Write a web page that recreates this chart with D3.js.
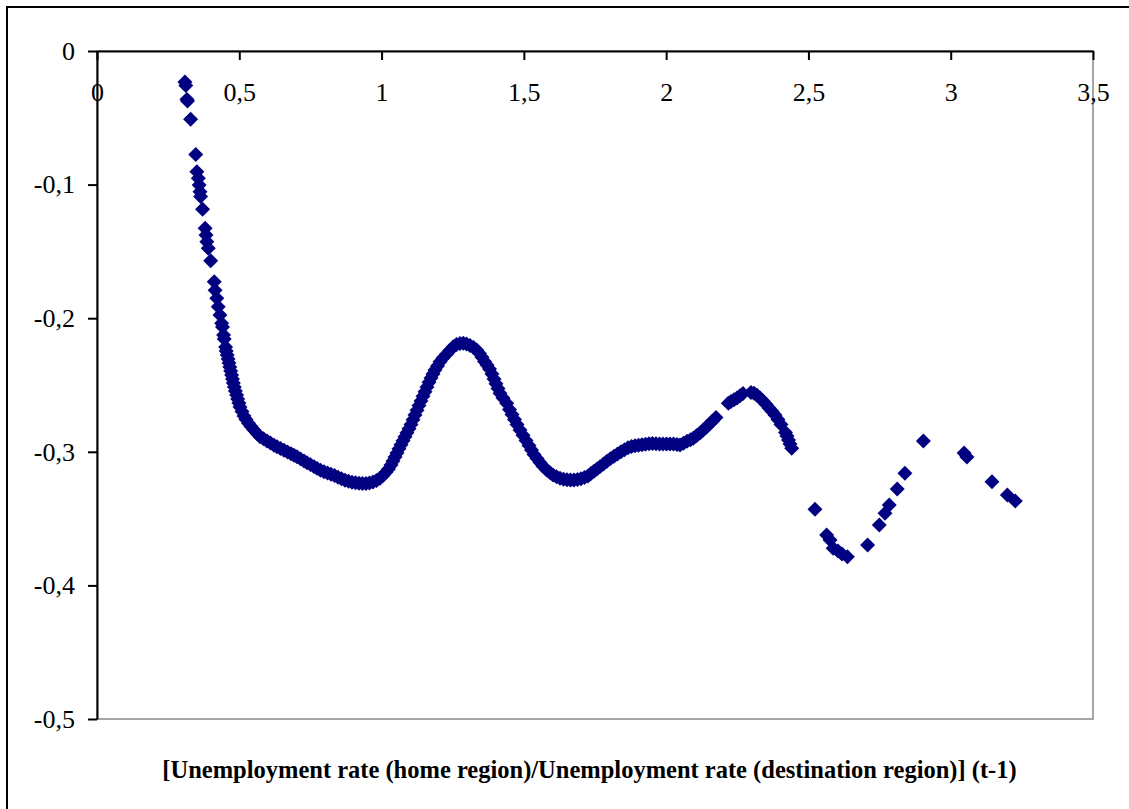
<!DOCTYPE html>
<html>
<head>
<meta charset="utf-8">
<script src="https://cdn.jsdelivr.net/npm/d3@7"></script>
<style>
  body { margin: 0; background: #fff; }
  .tick text { font-family: "Liberation Serif", "Times New Roman", serif; }
</style>
</head>
<body>
<div class="module"></div>
<script>

// tick values
const xTicks = [0, 0.5, 1, 1.5, 2, 2.5, 3, 3.5];
const yTicks = [0, -0.1, -0.2, -0.3, -0.4, -0.5];
const xTitle = "[Unemployment rate (home region)/Unemployment rate (destination region)] (t-1)";

// points, [x, y]
const topPoints = [
  [0.309,-0.0232],[0.312,-0.0258],[0.316,-0.0362],[0.318,-0.0375],[0.329,-0.0511],
  [0.347,-0.0775],[0.351,-0.0903],[0.356,-0.0953],[0.359,-0.1003],[0.362,-0.1053],
  [0.364,-0.109],[0.371,-0.1185],[0.380,-0.1327],[0.383,-0.1377],[0.386,-0.1427],
  [0.391,-0.1477],[0.3995,-0.157],[0.412,-0.1727],[0.415,-0.179],[0.421,-0.185],
  [0.426,-0.1914],[0.432,-0.1976],[0.438,-0.2038]
];

const steepDrop = [
  [0.441,-0.2066],[0.4449,-0.2126],[0.447,-0.2156],[0.4519,-0.2216],[0.454,-0.2246],
  [0.4575,-0.2275],[0.4607,-0.2305],[0.4638,-0.2335],[0.4667,-0.2365],[0.4698,-0.2395],
  [0.473,-0.2425],[0.4761,-0.2455],[0.479,-0.2485],[0.4825,-0.2515],[0.4863,-0.2545],
  [0.4906,-0.2575],[0.4944,-0.2605],[0.4986,-0.2635],[0.5025,-0.2665],[0.5095,-0.2698],
  [0.5166,-0.2732],[0.5236,-0.2758],[0.5324,-0.2787],[0.5412,-0.2811],[0.5517,-0.2837],
  [0.5622,-0.2863],[0.5728,-0.2887]
];

const firstValley = [
  [0.5851,-0.2903],[0.5974,-0.2919],[0.6097,-0.2934],[0.622,-0.2951],[0.6325,-0.2962],
  [0.6448,-0.2975],[0.6571,-0.2988],[0.6694,-0.3001],[0.6817,-0.3015],[0.6923,-0.3026],
  [0.7028,-0.3037],[0.7151,-0.3053],[0.7274,-0.3069],[0.7379,-0.3082],[0.7502,-0.3096],
  [0.7625,-0.3111],[0.7731,-0.3124],[0.7854,-0.3138],[0.7977,-0.3149],[0.81,-0.3159],
  [0.8223,-0.3168],[0.8346,-0.3177],[0.8469,-0.319],[0.8592,-0.3201],[0.8715,-0.3213],
  [0.8838,-0.3221],[0.8961,-0.3228],[0.9084,-0.3232],[0.9207,-0.3235],[0.933,-0.3237],
  [0.9453,-0.3237],[0.9576,-0.3234],[0.9699,-0.3226],[0.9822,-0.3215],[0.9945,-0.3198],
  [1.005,-0.3177],[1.0155,-0.3153],[1.0243,-0.3129]
];

const mainPeak = [
  [1.0331,-0.3099],[1.0401,-0.3069],[1.0472,-0.3039],[1.0542,-0.3009],[1.0612,-0.2978],
  [1.0683,-0.2947],[1.0753,-0.2917],[1.0823,-0.2887],[1.0893,-0.2857],[1.0964,-0.2827],
  [1.1034,-0.2796],[1.1104,-0.276],[1.1175,-0.2725],[1.1245,-0.2689],[1.1315,-0.2654],
  [1.1385,-0.262],[1.1456,-0.2585],[1.1526,-0.255],[1.1596,-0.2515],[1.1666,-0.248],
  [1.1737,-0.2448],[1.1807,-0.2418],[1.1877,-0.2388],[1.1965,-0.2358],[1.2053,-0.2326],
  [1.2158,-0.2298],[1.2281,-0.2269],[1.2404,-0.224],[1.252,-0.2213],[1.2633,-0.2197],
  [1.2756,-0.2189],[1.2872,-0.2188],[1.2984,-0.2193],[1.3107,-0.2204],[1.323,-0.2219],
  [1.3343,-0.2238],[1.3441,-0.2264],[1.3529,-0.2293],[1.3617,-0.2324],[1.3705,-0.235],
  [1.3793,-0.238],[1.388,-0.2418],[1.3951,-0.2455],[1.4021,-0.2491],[1.4091,-0.2526],
  [1.4161,-0.2562],[1.4267,-0.2597],[1.4397,-0.2637],[1.4495,-0.2683],[1.4583,-0.2721],
  [1.4671,-0.2758],[1.4759,-0.2796],[1.4864,-0.2837],[1.497,-0.2876],[1.5075,-0.2915],
  [1.518,-0.2953],[1.5268,-0.2987],[1.5356,-0.302],[1.5462,-0.305],[1.5567,-0.308]
];

const secondValley = [
  [1.5672,-0.3108],[1.5802,-0.3136],[1.5918,-0.3156],[1.6024,-0.3174],[1.6147,-0.3187],
  [1.627,-0.3198],[1.6393,-0.3205],[1.6516,-0.321],[1.6639,-0.3211],[1.6762,-0.3211],
  [1.6885,-0.3208],[1.7008,-0.3202],[1.7131,-0.3193],[1.7254,-0.3181],[1.7359,-0.3162],
  [1.7465,-0.3145],[1.757,-0.3129],[1.7675,-0.3111],[1.7798,-0.3091],[1.7921,-0.307],
  [1.8044,-0.3051],[1.8167,-0.3034],[1.829,-0.3016],[1.8413,-0.3],[1.8536,-0.2984],
  [1.8659,-0.297],[1.8782,-0.2961],[1.8905,-0.2954],[1.9028,-0.2951],[1.9151,-0.2947],
  [1.9274,-0.2943],[1.9397,-0.294],[1.952,-0.2938],[1.9643,-0.2939],[1.9767,-0.2941],
  [1.989,-0.2942],[2.0013,-0.2942],[2.0136,-0.2942],[2.0259,-0.2942],[2.0382,-0.2945],
  [2.0487,-0.2949]
];

const smallPeak = [
  [2.0609,-0.2936],[2.0733,-0.2921],[2.0855,-0.2909],[2.0954,-0.2899],[2.1066,-0.288],
  [2.1189,-0.2859],[2.1305,-0.2837],[2.1418,-0.2814],[2.1523,-0.2792],[2.1629,-0.2769],
  [2.1752,-0.2743],
  [2.2184,-0.2637],[2.2279,-0.2624],[2.2384,-0.2611],[2.249,-0.2597],[2.2595,-0.2581],
  [2.27,-0.2564],
  [2.2982,-0.2556],[2.3087,-0.2561],[2.3192,-0.2577],[2.3298,-0.2597],[2.3403,-0.262],
  [2.3509,-0.2644],[2.3614,-0.2672],[2.372,-0.2696],[2.3825,-0.2725],[2.393,-0.2758],
  [2.4036,-0.2796],
  [2.4194,-0.2856],[2.4247,-0.2882],[2.43,-0.2912],[2.4352,-0.2942],[2.4412,-0.2974]
];

const tailPoints = [
  [2.523,-0.343],[2.564,-0.3623],[2.576,-0.366],[2.587,-0.3722],[2.604,-0.3743],
  [2.618,-0.3765],[2.637,-0.3785],[2.708,-0.3698],[2.749,-0.3548],[2.769,-0.346],
  [2.784,-0.3398],[2.812,-0.3278],[2.839,-0.3161],[2.904,-0.2919],[3.047,-0.3009],
  [3.057,-0.3039],[3.145,-0.3224],[3.199,-0.3323],[3.227,-0.3368]
];

const points = [].concat(topPoints, steepDrop, firstValley, mainPeak,
                         secondValley, smallPeak, tailPoints);

const fullWidth = 1129, fullHeight = 809;
const margin = {top: 51, right: 36, bottom: 90, left: 97},
    width = fullWidth - margin.left - margin.right,
    height = fullHeight - margin.top - margin.bottom;

const fmt = d => String(+d.toFixed(1)).replace(".", ",");

const root = d3.select(".module")
  .append("svg")
    .attr("width", fullWidth)
    .attr("height", fullHeight);

// outer chart frame (runs off the right and bottom edge)
root.append("rect")
    .attr("x", 7)
    .attr("y", 7)
    .attr("width", 1300)
    .attr("height", 1000)
    .attr("fill", "none")
    .attr("stroke", "#000")
    .attr("stroke-width", 2);

const svg = root.append("g")
    .attr("transform", "translate(" + margin.left + "," + margin.top + ")");

const x = d3.scaleLinear()
    .domain([0, 3.5])
    .range([0, width]);

const y = d3.scaleLinear()
    .domain([-0.5, 0])
    .range([height, 0]);

// plot area border, grey on the right and bottom
svg.append("rect")
    .attr("width", width)
    .attr("height", height)
    .attr("fill", "none")
    .attr("stroke", "#888")
    .attr("stroke-width", 1.5);

// points
svg.selectAll("path.pt")
    .data(points)
    .enter()
    .append("path")
      .attr("class", "pt")
      .attr("d", d3.symbol(d3.symbolSquare, 112))
      .attr("transform", d => "translate(" + x(d[0]) + "," + y(d[1]) + ") rotate(45)")
      .attr("fill", "#000080");

// x axis sits on y = 0 (top of the plot)
const xAxis = svg.append("g")
    .attr("transform", "translate(0," + y(0) + ")")
    .call(d3.axisBottom(x)
      .tickValues(xTicks)
      .tickFormat(fmt)
      .tickSize(9)
      .tickSizeOuter(0)
      .tickPadding(23));

const yAxis = svg.append("g")
    .call(d3.axisLeft(y)
      .tickValues(yTicks)
      .tickFormat(fmt)
      .tickSize(9)
      .tickSizeOuter(0)
      .tickPadding(13));

[xAxis, yAxis].forEach(g => {
  g.selectAll(".domain, .tick line")
    .attr("stroke", "#000")
    .attr("stroke-width", 2);
  g.selectAll(".tick text")
    .attr("fill", "#000")
    .style("font-size", "26px");
});

root.append("text")
    .attr("x", 589.5)
    .attr("y", 778)
    .attr("text-anchor", "middle")
    .style("font-family", "'Liberation Serif', 'Times New Roman', serif")
    .style("font-weight", "bold")
    .style("font-size", "24.5px")
    .text(xTitle);

</script>
</body>
</html>
